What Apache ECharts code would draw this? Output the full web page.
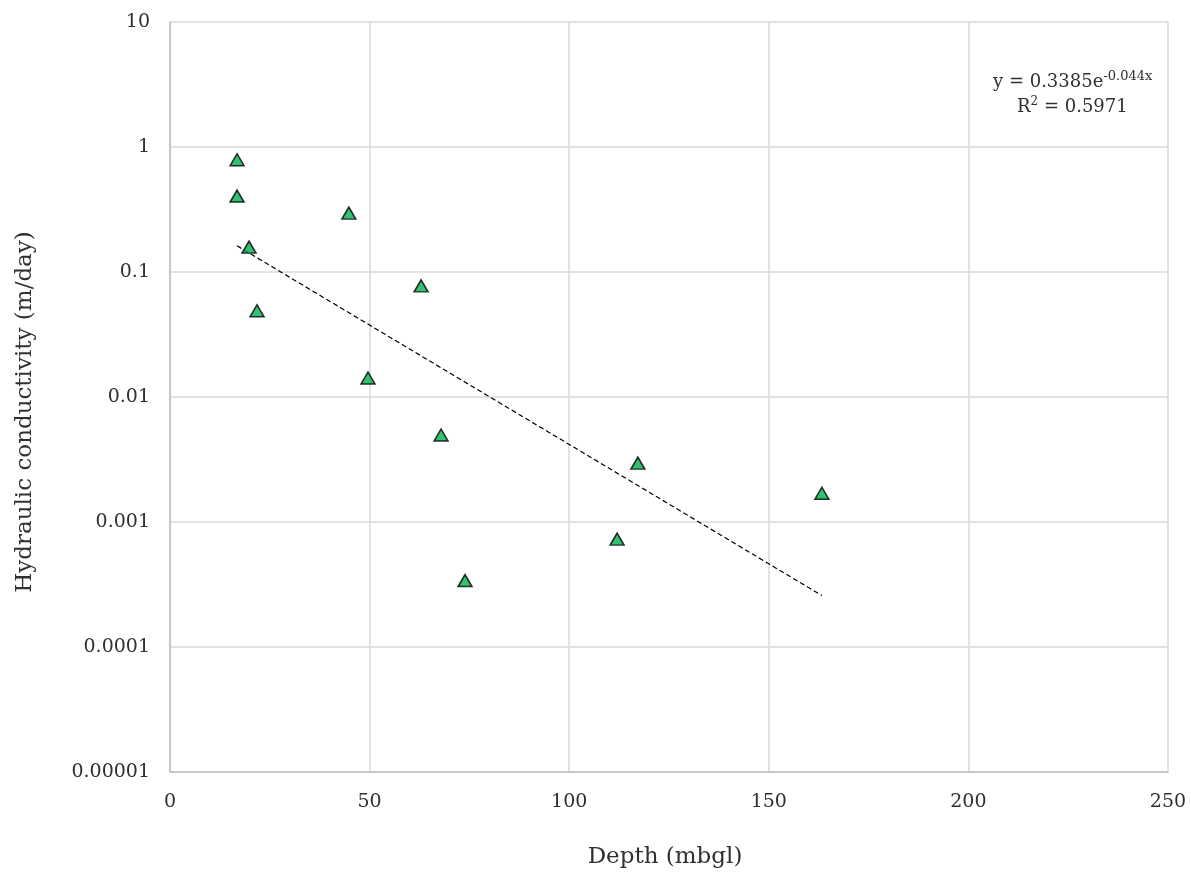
<!DOCTYPE html>
<html>
<head>
<meta charset="utf-8">
<script src="https://cdn.jsdelivr.net/npm/echarts@6/dist/echarts.min.js"></script>
<style>html,body{margin:0;padding:0;background:#fff}#c{width:1191px;height:872px}</style>
</head>
<body>
<div id="c"></div>
<script>
var depth = [16.8, 16.8, 19.8, 21.8, 44.8, 49.6, 62.9, 67.9, 73.9, 112.0, 117.2, 163.3];
var conductivity = [0.79, 0.405, 0.158, 0.049, 0.296, 0.0142, 0.0775, 0.00497, 0.00034, 0.00073, 0.00296, 0.0017];
var trendDepth = [16.8, 163.3];
var trendValue = [0.162, 0.000258];
var yTicks = [0.00001, 0.0001, 0.001, 0.01, 0.1, 1, 10];
var yTickLabels = ['0.00001', '0.0001', '0.001', '0.01', '0.1', '1', '10'];
var xTitle = 'Depth (mbgl)';
var yTitle = 'Hydraulic conductivity (m/day)';
var equationText = ['y = 0.3385e', '-0.044x', 'R', '2', ' = 0.5971'];

var FONT = 'DejaVu Serif';
var TXT = '#303030';
var chart = echarts.init(document.getElementById('c'));
var pts = depth.map(function (d, i) { return [d, conductivity[i]]; });
var trend = trendDepth.map(function (d, i) { return [d, trendValue[i]]; });

chart.setOption({
  animation: false,
  backgroundColor: '#fff',
  grid: { left: 170, right: 23, top: 22, bottom: 100 },
  xAxis: {
    type: 'value', min: 0, max: 250, interval: 50,
    axisLine: { show: true, lineStyle: { color: '#bfbfbf', width: 1.5 } },
    axisTick: { show: false },
    axisLabel: { fontFamily: FONT, fontSize: 19, color: TXT, margin: 21 },
    splitLine: { show: true, lineStyle: { color: '#d9d9d9', width: 1.5 } }
  },
  yAxis: {
    type: 'log', logBase: 10, min: 0.00001, max: 10,
    axisLine: { show: true, lineStyle: { color: '#bfbfbf', width: 1.5 } },
    axisTick: { show: false },
    axisLabel: {
      fontFamily: FONT, fontSize: 19, color: TXT, margin: 20,
      formatter: function (v) {
        for (var i = 0; i < yTicks.length; i++) {
          if (Math.abs(Math.log10(v) - Math.log10(yTicks[i])) < 1e-6) return yTickLabels[i];
        }
        return '';
      }
    },
    splitLine: { show: true, lineStyle: { color: '#d9d9d9', width: 1.5 } }
  },
  series: [
    {
      type: 'line', data: trend, showSymbol: false, symbol: 'none',
      lineStyle: { color: '#000', width: 1.2, type: [5, 3] }, z: 2
    },
    {
      type: 'scatter', data: pts, symbol: 'triangle', symbolSize: [14, 12],
      itemStyle: { color: '#00b050', borderColor: '#000', borderWidth: 1.5 }, z: 3
    }
  ],
  graphic: [
    {
      type: 'text', x: 665, y: 857,
      style: { text: xTitle, fontFamily: FONT, fontSize: 23, fill: TXT, align: 'center', verticalAlign: 'middle' }
    },
    {
      type: 'text', x: 25, y: 412, rotation: Math.PI / 2,
      style: { text: yTitle, fontFamily: FONT, fontSize: 23, fill: TXT, align: 'center', verticalAlign: 'middle' }
    },
    {
      type: 'text', left: 993, top: 70,
      style: {
        text: '{a|' + equationText[0] + '}{s|' + equationText[1] + '}',
        rich: {
          a: { fontFamily: FONT, fontSize: 18, fill: TXT },
          s: { fontFamily: FONT, fontSize: 13, fill: TXT, padding: [0, 0, 11, 0] }
        }
      }
    },
    {
      type: 'text', left: 1017, top: 96,
      style: {
        text: '{a|' + equationText[2] + '}{s|' + equationText[3] + '}{a|' + equationText[4] + '}',
        rich: {
          a: { fontFamily: FONT, fontSize: 18, fill: TXT },
          s: { fontFamily: FONT, fontSize: 12, fill: TXT, padding: [0, 0, 11, 0] }
        }
      }
    }
  ]
});
</script>
</body>
</html>
